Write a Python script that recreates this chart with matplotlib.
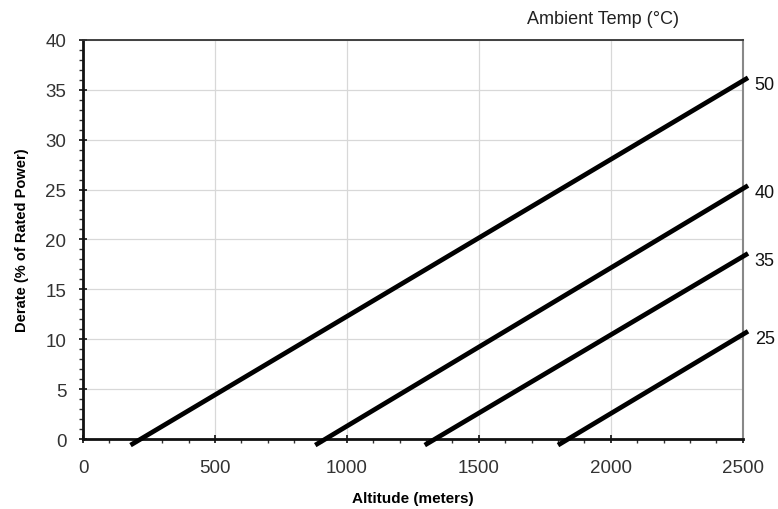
import matplotlib.pyplot as plt
from matplotlib.ticker import MultipleLocator

plt.rcParams['font.family'] = ['Liberation Sans', 'DejaVu Sans']

# derate curves: (altitude, derate) endpoints
temps = ["50", "40", "35", "25"]
alt_start = [180, 880, 1295, 1800]
derate_start = [-0.6, -0.6, -0.6, -0.6]
alt_end = [2520, 2520, 2520, 2520]
derate_end = [36.2, 25.4, 18.6, 10.8]

x_ticks = [0, 500, 1000, 1500, 2000, 2500]
y_ticks = [0, 5, 10, 15, 20, 25, 30, 35, 40]

fig = plt.figure(figsize=(7.78, 5.10), dpi=100)
ax = fig.add_axes([0.1067, 0.137, 0.848, 0.783])

for t, x0, y0, x1, y1 in zip(temps, alt_start, derate_start, alt_end, derate_end):
    ax.plot([x0, x1], [y0, y1], color='black', lw=3.4, solid_capstyle='butt',
            clip_on=False, zorder=3)
    ax.text(2545, y1 - 0.7, t, fontsize=13, va='center', ha='left', color='#111111')

ax.set_xlim(0, 2500)
ax.set_ylim(0, 40)
ax.set_xticks(x_ticks)
ax.set_yticks(y_ticks)
ax.xaxis.set_minor_locator(MultipleLocator(100))
ax.yaxis.set_minor_locator(MultipleLocator(1))
ax.grid(True, which='major', color='#d8d8d8', lw=0.9)
ax.set_axisbelow(True)

ax.tick_params(axis='both', which='major', labelsize=13.5, length=6, width=1.3,
               direction='inout', colors='#222222', labelcolor='#333333')
ax.tick_params(axis='x', which='major', pad=11)
ax.tick_params(axis='y', which='major', pad=9)
ax.tick_params(axis='both', which='minor', length=3, width=1, direction='out',
               colors='#333333')

for side in ['left', 'bottom']:
    ax.spines[side].set_linewidth(2)
    ax.spines[side].set_color('#111111')
ax.spines['top'].set_color('#333333')
ax.spines['top'].set_linewidth(1.3)
ax.spines['right'].set_color('#888888')
ax.spines['right'].set_linewidth(1.5)

ax.set_xlabel('Altitude (meters)', fontsize=11, fontweight='bold', labelpad=11)
ax.set_ylabel('Derate (% of Rated Power)', fontsize=10.5, fontweight='bold', labelpad=12)

fig.text(0.775, 0.962, 'Ambient Temp (°C)', fontsize=13, ha='center', va='center',
         color='#222222')

fig.savefig('out.png', dpi=100)
